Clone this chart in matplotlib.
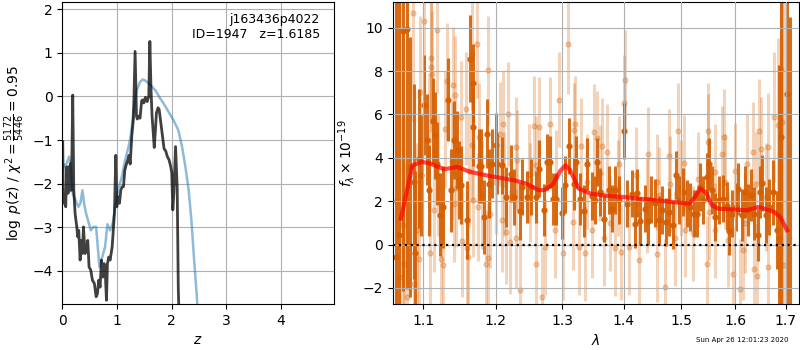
import matplotlib
matplotlib.use("Agg")
import matplotlib.pyplot as plt
from matplotlib.ticker import FixedLocator, FormatStrFormatter, NullLocator

# --- left panel: log p(z) ---
z_chi = [0.006, 0.018, 0.043, 0.061, 0.079, 0.104, 0.116, 0.128, 0.140, 0.153,
         0.165, 0.189, 0.208, 0.232, 0.263, 0.281, 0.299, 0.324, 0.348, 0.366,
         0.385, 0.415, 0.446, 0.464, 0.488, 0.519, 0.549, 0.586, 0.617, 0.641,
         0.665, 0.690, 0.714, 0.739, 0.763, 0.788, 0.806, 0.824, 0.849, 0.873,
         0.910, 0.952, 0.977, 0.995, 1.013, 1.044, 1.068, 1.093, 1.117, 1.142,
         1.166, 1.197, 1.220, 1.240, 1.270, 1.300, 1.330, 1.355, 1.370, 1.400,
         1.420, 1.450, 1.470, 1.490, 1.520, 1.550, 1.580, 1.600, 1.620, 1.640,
         1.660, 1.680, 1.700, 1.720, 1.750, 1.770, 1.800, 1.830, 1.860, 1.890,
         1.920, 1.950, 1.980, 2.000, 2.020, 2.040, 2.070, 2.100, 2.120, 2.140,
         2.160]
logp_chi = [-1.04, -2.45, -2.30, -2.53, -1.61, -2.22, -1.61, -2.07, -2.15, -1.54,
            -2.15, 0.03, -2.15, -2.68, -2.99, -3.22, -3.07, -3.75, -3.30, -3.60,
            -2.99, -3.60, -3.45, -3.30, -3.91, -3.98, -4.21, -4.29, -4.59, -4.52,
            -4.21, -4.37, -3.75, -4.14, -3.83, -4.14, -4.67, -3.83, -3.68, -3.75,
            -3.45, -2.68, -1.35, -2.53, -2.30, -2.45, -2.15, -2.07, -2.07, -1.69,
            -1.57, -1.46, -1.35, -1.55, -0.90, -0.50, 1.03, -0.45, -0.52, -0.45,
            -0.50, -0.10, -0.08, -0.15, -0.02, -0.12, 0.00, 1.26, 0.20, -0.45,
            -0.80, -1.17, -0.80, -0.38, -0.26, -0.30, -0.60, -0.90, -1.20, -1.25,
            -1.38, -1.45, -1.60, -1.75, -2.60, -2.20, -1.15, -2.10, -4.40, -5.30,
            -6.00]

z_prior = [0.000, 0.037, 0.079, 0.122, 0.153, 0.189, 0.230, 0.263, 0.293, 0.330,
           0.366, 0.397, 0.433, 0.476, 0.519, 0.568, 0.617, 0.647, 0.678, 0.720,
           0.780, 0.824, 0.874, 0.920, 0.965, 1.026, 1.088, 1.148, 1.209, 1.253,
           1.300, 1.360, 1.420, 1.470, 1.530, 1.610, 1.700, 1.790, 1.850, 1.940,
           2.030, 2.120, 2.190, 2.250, 2.310, 2.360, 2.410, 2.460, 2.490, 2.550]
logp_prior = [-1.69, -1.57, -1.54, -1.38, -1.61, -2.22, -2.35, -2.45, -2.53, -2.45,
              -2.15, -2.45, -2.68, -2.87, -3.07, -2.99, -2.99, -3.45, -3.91, -3.72,
              -3.45, -2.93, -3.07, -2.91, -2.53, -2.11, -1.84, -1.46, -1.16, -0.89,
              -0.31, 0.14, 0.33, 0.39, 0.35, 0.26, 0.14, -0.05, -0.16, -0.35,
              -0.54, -0.77, -1.16, -1.61, -2.15, -2.84, -3.75, -4.60, -5.24, -6.30]

label_text = "j163436p4022\nID=1947   z=1.6185"
chi2_label = r"$\log\ p(z)$" + " / " + r"$\chi^2=\frac{5172}{5446}=0.95$"
timestamp = "Sun Apr 26 12:01:23 2020"

# --- right panel: 1D spectrum (flux in 1e-19) ---
wave_a = [1.0646, 1.0688, 1.0732, 1.0787, 1.0830, 1.0874, 1.0895, 1.0940, 1.0970, 1.1013,
          1.1045, 1.1079, 1.1125, 1.1159, 1.1191, 1.1226, 1.1267, 1.1334, 1.1371, 1.1416,
          1.1463, 1.1485, 1.1508, 1.1595, 1.1637, 1.1679, 1.1685, 1.1763, 1.1797, 1.1834,
          1.1882, 1.1911, 1.1944, 1.2001, 1.2025, 1.2098, 1.2146, 1.2219, 1.2267, 1.2351,
          1.2391, 1.2466, 1.2515, 1.2590, 1.2640, 1.2716, 1.2768, 1.2803, 1.2860, 1.2896,
          1.2999, 1.3051, 1.3103, 1.3181, 1.3224, 1.3288, 1.3340, 1.3395, 1.3475, 1.3529,
          1.3556, 1.3610, 1.3664, 1.3746, 1.3802, 1.3857, 1.3923, 1.3995, 1.4052, 1.4137,
          1.4181, 1.4222, 1.4278, 1.4352, 1.4410, 1.4467, 1.4525, 1.4595, 1.4654, 1.4724,
          1.4783, 1.4841, 1.4902, 1.4961, 1.5038, 1.5100, 1.5160, 1.5238, 1.5282, 1.5342,
          1.5403, 1.5466, 1.5509, 1.5570, 1.5620, 1.5696, 1.5777, 1.5841, 1.5890, 1.5948,
          1.6013, 1.6063, 1.6128, 1.6192, 1.6256, 1.6309, 1.6374, 1.6440, 1.6486, 1.6531,
          1.6599, 1.6665, 1.6751, 1.6819, 1.6866, 1.6906, 1.7034, 1.7090]
flux_a = [-0.57, 0.46, 9.87, 9.95, 3.58, 2.89, -0.41, 3.96, 3.19, 6.42,
          4.84, 2.50, 5.70, 5.04, 3.73, 1.38, 1.73, 6.68, 2.50, 4.84,
          4.35, 2.96, 2.73, 1.12, 8.57, 7.46, 5.42, 3.61, 3.62, 1.27,
          5.11, 2.81, 3.73, 4.57, 3.73, 3.65, 2.19, 3.27, 2.19, 1.53,
          2.65, 2.19, 2.65, 2.19, 3.50, 1.58, 3.81, 3.81, 2.09, 2.09,
          1.44, 2.76, 4.54, 2.81, 3.81, 2.12, 1.55, 3.70, 2.23, 2.04,
          3.81, 2.42, 1.20, 2.50, 1.66, 2.50, 2.04, 5.24, 1.89, 2.35,
          0.94, 2.38, 1.07, 1.66, 1.09, 2.07, 1.92, 1.12, 1.58, 1.04,
          1.50, 0.89, 3.19, 2.04, 2.42, 1.89, 1.73, 1.43, 1.43, 2.65,
          2.04, 3.12, 3.73, 2.50, 1.27, 2.04, 2.12, 1.77, 0.63, 1.43,
          1.73, 2.58, 1.35, 2.42, 1.58, 2.27, 1.43, 0.43, 2.42, 2.84,
          1.35, 1.73, 2.42, 0.66, 0.28, 4.96, 6.96, -3.50]
err_a = [20.0, 15.0, 12.0, 12.0, 6.0, 4.5, 3.8, 3.2, 2.8, 2.3,
         2.1, 2.1, 2.0, 2.0, 1.9, 1.9, 1.9, 1.9, 1.9, 1.8,
         1.8, 1.8, 1.8, 1.8, 2.0, 1.8, 1.8, 1.7, 1.7, 1.7,
         1.6, 1.6, 1.6, 1.5, 1.4, 1.3, 1.4, 1.3, 1.3, 1.3,
         1.3, 1.2, 1.3, 1.2, 1.3, 1.2, 1.3, 1.2, 1.2, 1.2,
         1.2, 1.3, 1.3, 1.2, 1.2, 1.2, 1.2, 1.2, 1.1, 1.1,
         1.1, 1.1, 1.1, 1.1, 1.1, 1.1, 1.1, 1.3, 1.1, 1.1,
         1.1, 1.1, 1.1, 1.1, 1.1, 1.1, 1.1, 1.1, 1.1, 1.1,
         1.1, 1.1, 1.1, 1.1, 1.1, 1.1, 1.1, 1.1, 1.1, 1.1,
         1.1, 1.1, 1.2, 1.1, 1.1, 1.1, 1.1, 1.1, 1.1, 1.1,
         1.1, 1.2, 1.2, 1.2, 1.2, 1.2, 1.2, 1.2, 1.2, 1.3,
         1.3, 1.3, 1.5, 1.8, 8.0, 12.0, 15.0, 14.0]

wave_b = [1.0652, 1.0700, 1.0732, 1.0752, 1.0787, 1.0861, 1.0874, 1.0926, 1.0947, 1.0960,
          1.1013, 1.1079, 1.1085, 1.1102, 1.1108, 1.1124, 1.1146, 1.1182, 1.1200, 1.1236,
          1.1267, 1.1294, 1.1326, 1.1385, 1.1403, 1.1416, 1.1430, 1.1440, 1.1518, 1.1532,
          1.1577, 1.1601, 1.1605, 1.1620, 1.1670, 1.1672, 1.1675, 1.1741, 1.1749, 1.1763,
          1.1800, 1.1858, 1.1891, 1.1894, 1.1919, 1.2000, 1.2058, 1.2098, 1.2106, 1.2121,
          1.2146, 1.2185, 1.2204, 1.2292, 1.2295, 1.2320, 1.2351, 1.2489, 1.2500, 1.2564,
          1.2590, 1.2593, 1.2640, 1.2692, 1.2731, 1.2803, 1.2885, 1.2900, 1.2957, 1.3008,
          1.3087, 1.3165, 1.3192, 1.3208, 1.3271, 1.3303, 1.3367, 1.3400, 1.3475, 1.3513,
          1.3556, 1.3600, 1.3638, 1.3664, 1.3720, 1.3774, 1.3845, 1.3900, 1.3911, 1.3956,
          1.3995, 1.4011, 1.4079, 1.4200, 1.4250, 1.4400, 1.4410, 1.4567, 1.4570, 1.4600,
          1.4700, 1.4783, 1.4800, 1.4889, 1.4937, 1.5000, 1.5056, 1.5060, 1.5207, 1.5300,
          1.5466, 1.5485, 1.5494, 1.5500, 1.5620, 1.5624, 1.5747, 1.5796, 1.5800, 1.5863,
          1.5967, 1.6000, 1.6096, 1.6160, 1.6200, 1.6225, 1.6354, 1.6374, 1.6400, 1.6432,
          1.6472, 1.6510, 1.6600, 1.6640, 1.6651, 1.6772, 1.6841, 1.6906, 1.6930, 1.6971]
flux_b = [2.00, -1.50, 0.89, -0.91, -2.41, 10.70, -1.83, 0.66, -0.65, 7.03,
          10.30, 4.81, -0.39, 8.60, 8.20, 7.85, 1.61, 9.90, 3.20, -0.65,
          -0.95, 5.31, 7.53, 3.85, 7.34, 1.89, 6.91, 2.60, 5.88, 0.17,
          6.27, -0.18, -0.57, 3.40, 8.80, 4.58, 2.04, 9.26, 1.73, 4.96,
          2.30, -0.91, 8.03, -0.60, 1.43, 2.90, 5.11, 1.12, 5.58, 2.81,
          0.58, 6.04, 0.12, 4.50, 0.28, 3.90, -2.11, 3.27, 2.40, 5.45,
          3.65, -0.88, 5.42, -2.41, -0.11, 5.54, 0.66, 3.10, 6.68, -0.37,
          9.26, 1.04, 5.27, 5.58, -0.11, 4.54, -0.41, 2.90, 0.66, 5.19,
          4.90, 3.30, 4.54, 0.28, 4.27, 0.97, -0.18, 2.60, 3.73, -0.34,
          6.54, 7.60, -0.11, 3.20, -0.72, 1.80, 4.16, 2.89, -0.45, 2.30,
          -1.95, 4.07, 2.80, 0.28, 5.24, 2.60, 3.76, 0.69, 0.51, 3.00,
          -0.88, 5.24, 4.73, 1.50, 3.35, 0.66, 4.19, 4.96, 2.90, 0.23,
          -1.37, 3.40, -2.03, -0.26, 1.00, 3.73, 4.27, -1.11, 2.80, -1.45,
          5.22, 4.42, 2.20, -1.03, 4.50, 5.88, 5.53, 8.11, 5.65, -0.95]
err_b = [20.0, 14.0, 9.0, 7.0, 6.0, 5.0, 4.5, 4.0, 3.8, 3.5,
         3.3, 3.1, 3.1, 3.0, 3.0, 2.9, 2.9, 2.9, 2.8, 2.8,
         2.8, 2.7, 2.7, 2.7, 2.7, 2.7, 2.7, 2.7, 2.6, 2.6,
         2.6, 2.6, 2.6, 2.6, 2.6, 2.6, 2.6, 2.5, 2.5, 2.5,
         2.5, 2.5, 2.5, 2.5, 2.5, 2.4, 2.4, 2.4, 2.4, 2.4,
         2.4, 2.4, 2.4, 2.3, 2.3, 2.3, 2.3, 2.3, 2.3, 2.3,
         2.3, 2.3, 2.3, 2.3, 2.2, 2.2, 2.2, 2.2, 2.2, 2.2,
         2.3, 2.2, 2.2, 2.2, 2.2, 2.2, 2.2, 2.2, 2.2, 2.2,
         2.2, 2.2, 2.2, 2.2, 2.2, 2.2, 2.2, 2.2, 2.2, 2.2,
         2.2, 2.3, 2.2, 2.2, 2.2, 2.2, 2.2, 2.2, 2.2, 2.2,
         2.2, 2.2, 2.2, 2.2, 2.2, 2.2, 2.2, 2.2, 2.2, 2.2,
         2.2, 2.2, 2.2, 2.2, 2.2, 2.2, 2.2, 2.2, 2.2, 2.2,
         2.2, 2.2, 2.3, 2.3, 2.3, 2.3, 2.3, 2.3, 2.4, 2.4,
         2.4, 2.4, 2.5, 2.5, 2.5, 3.0, 4.0, 6.0, 9.0, 13.0]

wave_model = [1.071, 1.086, 1.099, 1.110, 1.128, 1.146, 1.164, 1.191, 1.227, 1.245,
              1.264, 1.273, 1.285, 1.297, 1.305, 1.312, 1.326, 1.345, 1.370, 1.400,
              1.450, 1.500, 1.515, 1.525, 1.534, 1.545, 1.556, 1.567, 1.600, 1.622,
              1.646, 1.677, 1.689, 1.703]
flux_model = [1.20, 3.65, 3.81, 3.73, 3.47, 3.58, 3.35, 3.16, 2.96, 2.81,
              2.50, 2.52, 2.75, 3.40, 3.65, 3.45, 2.58, 2.35, 2.25, 2.19,
              2.05, 1.92, 1.90, 2.20, 2.58, 2.40, 1.81, 1.66, 1.61, 1.58,
              1.73, 1.50, 1.27, 0.66]

grism_color = (0.835, 0.369, 0.0)

fig, (ax1, ax2) = plt.subplots(1, 2, figsize=(8, 3.5), dpi=100,
                               gridspec_kw={"width_ratios": [1, 1.5]})
fig.subplots_adjust(left=0.078, right=0.999, bottom=0.131, top=0.994, wspace=0.174)

ax1.plot(z_prior, logp_prior, color="tab:blue", alpha=0.5, lw=1.8)
ax1.plot(z_chi, logp_chi, color="k", alpha=0.75, lw=2)
ax1.text(0.95, 0.965, label_text, ha="right", va="top",
         transform=ax1.transAxes, fontsize=9)
ax1.set_xlim(0, 4.96)
ax1.set_ylim(-4.76, 2.16)
ax1.set_xlabel(r"$z$")
ax1.set_ylabel(chi2_label)
ax1.grid()

ax2.errorbar(wave_b, flux_b, err_b, color=grism_color, alpha=0.27, marker=".",
             ms=7, linestyle="None", elinewidth=2.2)
ax2.errorbar(wave_a, flux_a, err_a, color=grism_color, alpha=0.9, marker=".",
             ms=7, linestyle="None", elinewidth=2.2)
ax2.plot(wave_model, flux_model, color="r", alpha=0.7, lw=3, zorder=4)
ax2.axhline(0, color="k", linestyle=":", lw=1.6, zorder=5)

ax2.set_xscale("log")
ax2.set_xlim(1.0603, 1.728)
ax2.set_ylim(-2.75, 11.18)
ax2.xaxis.set_major_locator(FixedLocator([1.1, 1.2, 1.3, 1.4, 1.5, 1.6, 1.7]))
ax2.xaxis.set_major_formatter(FormatStrFormatter("%.1f"))
ax2.xaxis.set_minor_locator(NullLocator())
ax2.set_xlabel(r"$\lambda$")
ax2.set_ylabel(r"$f_\lambda\times10^{-19}$")
ax2.set_axisbelow(False)
ax2.grid()

fig.text(1 - 0.015, 0.02, timestamp, ha="right", va="bottom", fontsize=5)

fig.savefig("out.png")
